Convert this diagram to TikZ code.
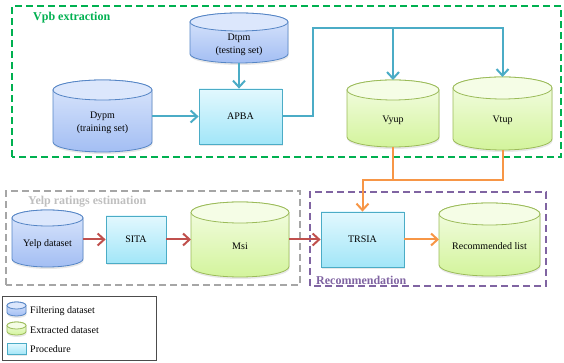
\documentclass[tikz,border=0pt]{standalone}
\usepackage{fontspec}
\setmainfont{Liberation Serif}
\usetikzlibrary{calc,arrows.meta,shadows}
\definecolor{cylBlueTop}{HTML}{DCE7FC}
\definecolor{cylBlueBot}{HTML}{A3BEF3}
\definecolor{cylBlueLine}{HTML}{5585C5}
\definecolor{cylGreenTop}{HTML}{F5FDE6}
\definecolor{cylGreenBot}{HTML}{D3F49C}
\definecolor{cylGreenLine}{HTML}{9BBB59}
\definecolor{procTop}{HTML}{E2F8FE}
\definecolor{procBot}{HTML}{A2E6F8}
\definecolor{procLine}{HTML}{4BACC6}
\definecolor{arrBlue}{HTML}{4BACC6}
\definecolor{arrOrange}{HTML}{F79646}
\definecolor{arrRed}{HTML}{C0504D}
\definecolor{grpGreen}{HTML}{00B050}
\definecolor{grpGray}{HTML}{A6A6A6}
\definecolor{grpGrayText}{HTML}{BFBFBF}
\definecolor{grpPurple}{HTML}{8064A2}
\newcommand{\dbcyl}[7]{%
  \node[inner sep=0pt, outer sep=0pt, minimum width=#4pt, minimum height=#5pt, anchor=north] (#1) at (#2,#3) {};
  \path[#7body] ($(#1.north west)+(0,-#6)$) -- ($(#1.south west)+(0,#6)$)
     arc[start angle=180, end angle=360, x radius={#4*0.5pt}, y radius=#6pt]
     -- ($(#1.north east)+(0,-#6)$)
     arc[start angle=0, end angle=180, x radius={#4*0.5pt}, y radius=#6pt] -- cycle;
  \path[#7top] ($(#1.north)+(0,-#6)$) ellipse[x radius={#4*0.5pt}, y radius=#6pt];
}
\tikzset{
  x=1pt, y=1pt,
  softshadow/.style={drop shadow={opacity=0.18, shadow xshift=0.5pt, shadow yshift=-2pt}},
  bluebody/.style={softshadow, draw=cylBlueLine, line width=0.8pt, top color=cylBlueTop, bottom color=cylBlueBot},
  bluetop/.style={draw=cylBlueLine, line width=0.8pt, fill=cylBlueTop},
  greenbody/.style={softshadow, draw=cylGreenLine, line width=0.8pt, top color=cylGreenTop, bottom color=cylGreenBot},
  greentop/.style={draw=cylGreenLine, line width=0.8pt, fill=cylGreenTop},
  proc/.style={softshadow, draw=procLine, line width=0.8pt, top color=procTop, bottom color=procBot,
    inner sep=0pt, font=\fontsize{10}{13}\selectfont},
  txt/.style={font=\fontsize{10}{13}\selectfont, align=center, inner sep=1pt},
  legtxt/.style={font=\fontsize{10}{13}\selectfont, anchor=west, inner sep=0pt},
  flow/.style={line width=2pt, -{Straight Barb[length=6.5pt,width=12pt]}},
  flowline/.style={line width=2pt},
  grp/.style={line width=1.5pt, dash pattern=on 7pt off 4pt},
  grplabel/.style={font=\bfseries\fontsize{12}{14}\selectfont, anchor=west, inner sep=0pt},
}
\begin{document}
\begin{tikzpicture}
\useasboundingbox (0,0) rectangle (564,363);
% group boxes
\draw[grp, grpGreen] (12,206) rectangle (561,357);
\draw[grp, grpGray] (6,78) rectangle (300,172);
\draw[grp, grpPurple] (310,77) rectangle (546,171);
\node[grplabel, text=grpGreen] (lblvpb) at (33,345) {Vpb extraction};
\node[grplabel, text=grpGrayText] (lblyelp) at (28,161) {Yelp ratings estimation};
\node[grplabel, text=grpPurple] (lblrec) at (316,83) {Recommendation};
% cylinders
\dbcyl{dtpm}{239}{350}{98}{50}{9}{blue}
\node[txt] (dtpmt) at (239,318.5) {Dtpm\\(testing set)};
\dbcyl{dypm}{102.5}{283}{99}{72}{10}{blue}
\node[txt] (dypmt) at (102.5,240) {Dypm\\(training set)};
\dbcyl{vyup}{393}{283}{92}{67}{10}{green}
\node[txt] (vyupt) at (393,243) {Vyup};
\dbcyl{vtup}{502.5}{286}{99}{73}{11}{green}
\node[txt] (vtupt) at (502.5,243) {Vtup};
\dbcyl{yelp}{47.5}{153}{71}{57}{8}{blue}
\node[txt] (yelpt) at (47.5,119) {Yelp dataset};
\dbcyl{msi}{240}{161}{98}{75}{10.5}{green}
\node[txt] (msit) at (240,117) {Msi};
\dbcyl{rec}{489.5}{160}{101}{73}{11}{green}
\node[txt] (rect) at (489.5,117) {Recommended list};
% procedures
\node[proc, minimum width=83pt, minimum height=55pt] (apba) at (240.5,246.5) {APBA};
\node[proc, minimum width=60pt, minimum height=47pt] (sita) at (136,123.5) {SITA};
\node[proc, minimum width=83pt, minimum height=55pt] (trsia) at (362.5,123.5) {TRSIA};
% blue connectors
\draw[flow, arrBlue] (dtpm.south) -- (dtpm.south |- apba.north);
\draw[flow, arrBlue] (dypm.east |- apba.west) -- (apba.west);
\coordinate (bj) at (313,335);
\draw[flow, arrBlue] (apba.east) -| (bj) -| (vtup.north);
\draw[flow, arrBlue] (vyup.north |- bj) -- (vyup.north);
% orange connectors
\coordinate (oj) at (393,183);
\draw[flowline, arrOrange] (vtup.south) |- (oj);
\draw[flow, arrOrange] (vyup.south) -- (oj) -| (trsia.north);
\draw[flow, arrOrange] (trsia.east) -- (rec.west |- trsia.east);
% red connectors
\draw[flow, arrRed] (yelp.east |- sita.west) -- (sita.west);
\draw[flow, arrRed] (sita.east) -- (msi.west |- sita.east);
\draw[flow, arrRed] (msi.east |- trsia.west) -- (trsia.west);
% legend
\draw[line width=0.6pt, black!70] (2,3) rectangle (156,67);
\dbcyl{lgf}{16.5}{61}{19}{14}{3.5}{blue}
\node[legtxt] (lgft) at (30,52) {Filtering dataset};
\dbcyl{lge}{16.5}{41}{19}{13}{3.5}{green}
\node[legtxt] (lget) at (30,33) {Extracted dataset};
\node[proc, minimum width=19pt, minimum height=11pt] (lgp) at (16.5,14) {};
\node[legtxt] (lgpt) at (30,14) {Procedure};
\end{tikzpicture}
\end{document}
